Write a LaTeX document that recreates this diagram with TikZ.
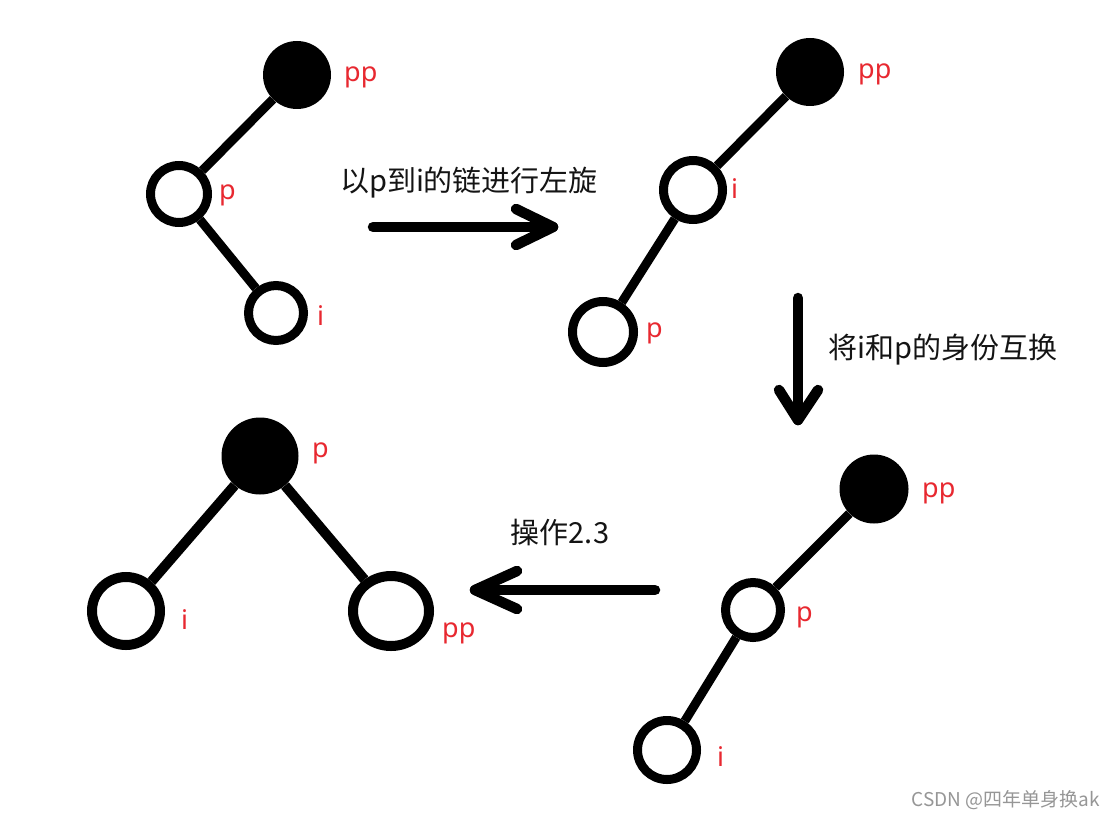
\documentclass[tikz,border=0pt]{standalone}
\usepackage{fontspec}
\usetikzlibrary{calc,shapes.geometric}
\newfontfamily\cjk{Noto Sans CJK SC}
\newfontfamily\lbl{Noto Sans}
\definecolor{lblred}{RGB}{232,40,48}
\definecolor{wmgray}{RGB}{150,150,150}
\definecolor{txt}{RGB}{20,20,20}
\tikzset{
  x=1pt, y=-1pt,
  wnode/.style={circle, draw=black, line width=9pt, fill=white, inner sep=0pt, minimum size=#1},
  wnode/.default=57pt,
  bnode/.style={circle, fill=black, inner sep=0pt, minimum size=#1},
  bnode/.default=69pt,
  edge/.style={line width=9pt},
  arrowline/.style={line width=10.5pt, line cap=round, line join=round},
  redlbl/.style={text=lblred, font=\lbl\fontsize{27}{27}\selectfont, anchor=west, inner sep=0pt},
  caption/.style={text=txt, font=\cjk\fontsize{29}{29}\selectfont, inner sep=0pt},
}
\begin{document}
\begin{tikzpicture}
\useasboundingbox[fill=white] (0,0) rectangle (1115,818);

% ---------- Tree 1 ----------
\node[bnode=68pt] (t1pp) at (297,75) {};
\node[wnode=57pt] (t1p) at (179,194) {};
\node[wnode=55pt] (t1i) at (276,313) {};
\draw[edge] (t1pp) -- (t1p);
\draw[edge] (t1p) -- (t1i);
\node[redlbl] (l1pp) at (344,77.5) {pp};
\node[redlbl] (l1p) at (219,195) {p};
\node[redlbl] (l1i) at (317,316) {i};

% ---------- Tree 2 ----------
\node[bnode=68pt] (t2pp) at (810,72) {};
\node[wnode=59pt] (t2i) at (693,190) {};
\node[wnode=61pt] (t2p) at (603,332) {};
\draw[edge] (t2pp) -- (t2i);
\draw[edge] (t2i) -- (t2p);
\node[redlbl] (l2pp) at (858,74) {pp};
\node[redlbl] (l2i) at (731,189) {i};
\node[redlbl] (l2p) at (646,333) {p};

% ---------- Tree 3 ----------
\node[bnode=69pt] (t3pp) at (874,489) {};
\node[wnode=55pt] (t3p) at (753,610) {};
\node[wnode=59pt] (t3i) at (667,750) {};
\draw[edge] (t3pp) -- (t3p);
\draw[edge] (t3p) -- (t3i);
\node[redlbl] (l3pp) at (922,493) {pp};
\node[redlbl] (l3p) at (796,617) {p};
\node[redlbl] (l3i) at (717,757) {i};

% ---------- Tree 4 ----------
\node[bnode=77pt] (t4p) at (260,456) {};
\node[wnode=68pt, line width=10pt] (t4i) at (126,611) {};
\node[ellipse, draw=black, line width=10pt, fill=white, inner sep=0pt,
      minimum width=76pt, minimum height=70pt] (t4pp) at (391,611) {};
\draw[edge, line width=10pt] (t4p) -- (t4i);
\draw[edge, line width=10pt] (t4p) -- (t4pp);
\node[redlbl] (l4p) at (312,453) {p};
\node[redlbl] (l4i) at (181,620) {i};
\node[redlbl] (l4pp) at (442,633) {pp};

% ---------- Arrow 1 (right) ----------
\coordinate (a1s) at (373,227);
\coordinate (a1e) at (553,227);
\draw[arrowline] (a1s) -- (a1e);
\draw[arrowline] ($(a1e)+(-37,-18)$) -- (a1e) -- ($(a1e)+(-37,18)$);
\node[caption] (c1) at (469,183) {以p到i的链进行左旋};

% ---------- Arrow 2 (down) ----------
\coordinate (a2s) at (798,298);
\coordinate (a2e) at (798,420);
\draw[arrowline] (a2s) -- (a2e);
\draw[arrowline] ($(a2e)+(-19,-30)$) -- (a2e) -- ($(a2e)+(20,-30)$);
\node[caption] (c2) at (943,350) {将i和p的身份互换};

% ---------- Arrow 3 (left) ----------
\coordinate (a3s) at (655,590);
\coordinate (a3e) at (475,590);
\draw[arrowline] (a3s) -- (a3e);
\draw[arrowline] ($(a3e)+(42,-19)$) -- (a3e) -- ($(a3e)+(42,19)$);
\node[caption] (c3) at (560,532) {操作2.3};

% ---------- Watermark ----------
\node[text=wmgray, font=\cjk\fontsize{19}{19}\selectfont, anchor=east, inner sep=0pt] (wm) at (1100,800) {CSDN @四年单身换ak};
\end{tikzpicture}
\end{document}
